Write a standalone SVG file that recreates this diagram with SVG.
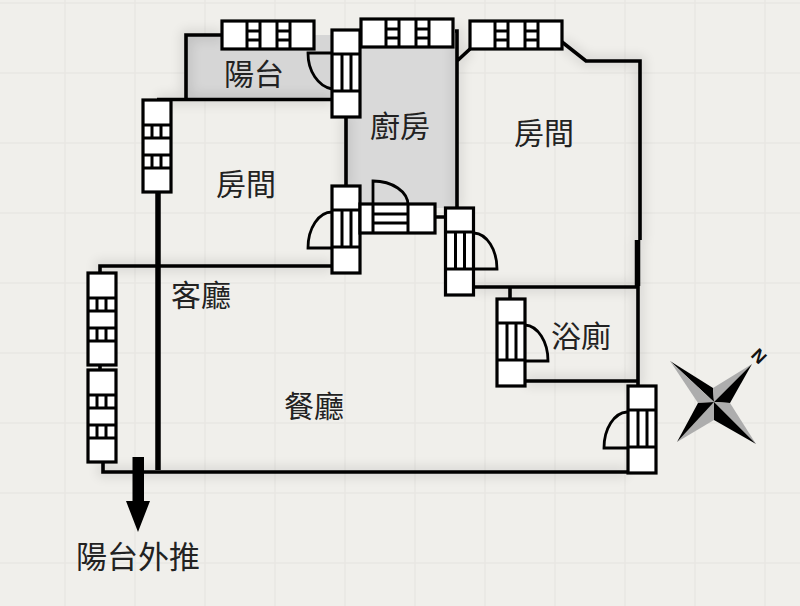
<svg xmlns="http://www.w3.org/2000/svg" xmlns:xlink="http://www.w3.org/1999/xlink" width="800" height="606" viewBox="0 0 800 606">
<style>
.grid{stroke:#e8e7e3;stroke-width:1.5;fill:none}
.wall{stroke:#000;fill:none;stroke-width:3.6;stroke-linejoin:miter}
.thick{stroke-width:5.500}
.f{fill:#fff;stroke:#000;stroke-width:3.200}
.l{stroke:#000;stroke-width:3;fill:none}
.arc{stroke:#000;stroke-width:2.800;fill:none}
.room{font-family:"Noto Sans CJK TC","Noto Sans CJK SC",sans-serif;font-size:30px;fill:#222;text-anchor:middle}
.k{fill:#000}.g{fill:#adadad}
</style>
<defs>
<filter id="soft" x="-10%" y="-10%" width="120%" height="120%"><feGaussianBlur stdDeviation="6"/></filter>
<g id="win">
<rect class="f" x="0" y="0" width="92" height="28"/>
<path class="l" d="M25 0V28M38 0V28M55 0V28M68 0V28M25 10H38M25 19H38M55 10H68M55 19H68"/>
</g>
<g id="door">
<rect class="f" x="0" y="0" width="28" height="87"/>
<path class="l" d="M0 24H28M0 61H28M10 24V61M19 24V61"/>
</g>
<path id="wallpath" d="M222 35H186V99.500H332M157 99.500H186M346 115V187M455 31H457V208M457 61L470 49M562 42L586 61H640V240M638 240V386M100 273V266H332M103 462V472H627M474 287H637M510 287V299M525 381H637"/>
</defs>
<rect width="800" height="606" fill="#f0efeb"/>
<path class="grid" d="M65 0V606M135 0V606M205 0V606M275 0V606M345 0V606M415 0V606M485 0V606M555 0V606M625 0V606M695 0V606M765 0V606M0 3H800M0 73H800M0 143H800M0 213H800M0 283H800M0 353H800M0 423H800M0 493H800M0 563H800"/>
<g id="floors">
<rect x="186" y="35" width="146" height="65" fill="#d6d6d6"/>
<rect x="346" y="47" width="111" height="161" fill="#d9d9d9"/>
</g>
<g filter="url(#soft)" opacity=".1"><use xlink:href="#wallpath" href="#wallpath" fill="none" stroke="#000" stroke-width="10"/></g>
<g id="connectors">
<use xlink:href="#wallpath" href="#wallpath" class="wall"/>
<path class="wall thick" d="M158 192V470M637.500 240V286"/>
<path class="wall" d="M435 217H445M100 366V370"/>
</g>
<g id="window-top-1"><use xlink:href="#win" href="#win" x="222" y="21"/></g>
<g id="window-top-2"><use xlink:href="#win" href="#win" x="361" y="19"/></g>
<g id="window-top-3"><use xlink:href="#win" href="#win" x="470" y="21"/></g>
<g id="window-left-1"><use xlink:href="#win" href="#win" transform="translate(171,100) rotate(90)"/></g>
<g id="window-left-2"><use xlink:href="#win" href="#win" transform="translate(116,273) rotate(90)"/></g>
<g id="window-left-3"><use xlink:href="#win" href="#win" transform="translate(116,370) rotate(90)"/></g>
<g id="door-balcony">
<path class="arc" d="M332 53H308A28 36 0 0 0 332 89"/>
<use xlink:href="#door" href="#door" x="332" y="30"/>
</g>
<g id="door-room">
<path class="arc" d="M332 248H308A24 36 0 0 1 332 212"/>
<use xlink:href="#door" href="#door" x="332" y="186"/>
</g>
<g id="door-kitchen">
<path class="arc" d="M373 205V181A35 24 0 0 1 408 205"/>
<rect class="f" x="360" y="204" width="75" height="29"/>
<path class="l" d="M373 204V233M408 204V233M373 214H408M373 223H408"/>
</g>
<g id="door-bedroom">
<path class="arc" d="M474 269H497A24 36 0 0 0 474 233"/>
<use xlink:href="#door" href="#door" x="445.500" y="208"/>
</g>
<g id="door-bath">
<path class="arc" d="M525 361H548A24 36 0 0 0 525 325"/>
<use xlink:href="#door" href="#door" x="497" y="299"/>
</g>
<g id="door-entry">
<path class="arc" d="M627 448H604A24 36 0 0 1 627 412"/>
<use xlink:href="#door" href="#door" x="628" y="386"/>
</g>
<g id="room-balcony"><text class="room" x="254" y="85">陽台</text></g>
<g id="room-kitchen"><text class="room" x="400" y="137">廚房</text></g>
<g id="room-bedroom-right"><text class="room" x="544" y="144">房間</text></g>
<g id="room-bedroom-left"><text class="room" x="246" y="195">房間</text></g>
<g id="room-living"><text class="room" x="201" y="306">客廳</text></g>
<g id="room-bath"><text class="room" x="581" y="347">浴廁</text></g>
<g id="room-dining"><text class="room" x="314" y="417">餐廳</text></g>
<g id="push-arrow">
<path class="k" d="M132.500 457H144V501H150L138 532L126 501H132.500Z"/>
<text class="room" x="138" y="568" style="font-size:31px">陽台外推</text>
</g>
<g id="compass">
<path class="k" d="M670 361L713 388L714 402Z"/>
<path class="g" d="M670 361L698 403L714 402Z"/>
<path class="g" d="M752 364L713 388L714 402Z"/>
<path class="k" d="M752 364L730 403L714 402Z"/>
<path class="g" d="M756 444L730 403L714 402Z"/>
<path class="k" d="M756 444L714 420L714 402Z"/>
<path class="g" d="M677 442L714 420L714 402Z"/>
<path class="k" d="M677 442L698 403L714 402Z"/>
<text transform="translate(750,356) rotate(45)" style="font-family:'Liberation Sans',sans-serif;font-size:18px;font-weight:bold" fill="#111">N</text>
</g>
</svg>
